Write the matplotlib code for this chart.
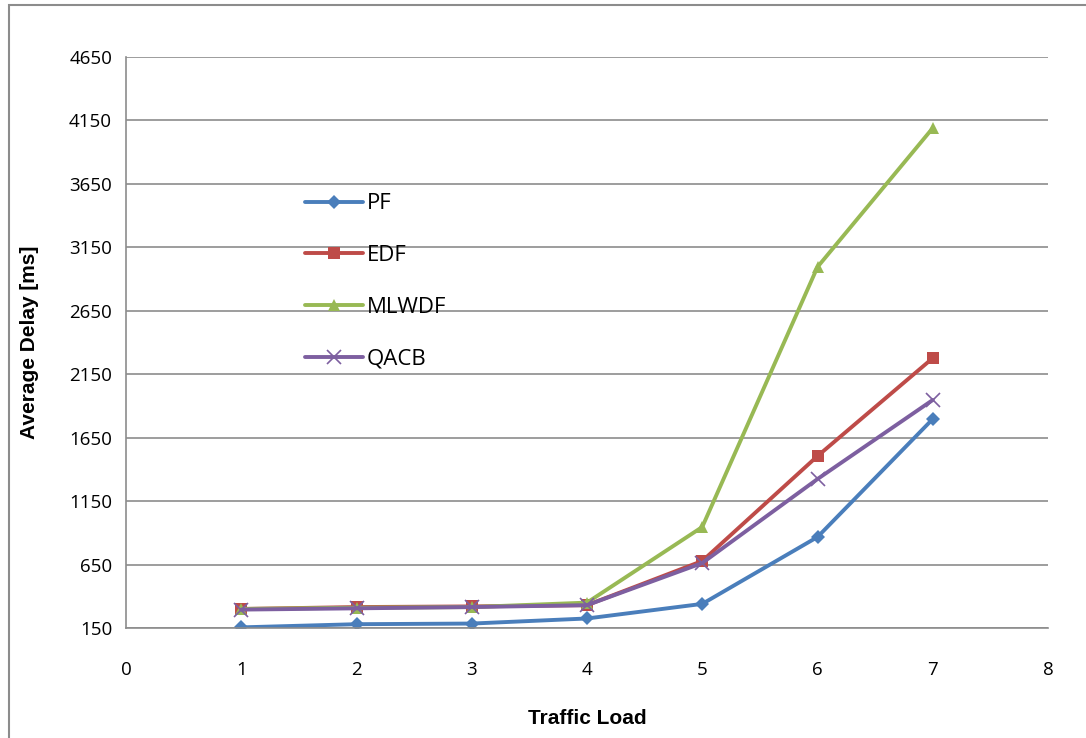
import matplotlib
matplotlib.use("Agg")
import matplotlib.pyplot as plt
from matplotlib.patches import Rectangle

# Average delay per scheduler versus traffic load
traffic_load = [1, 2, 3, 4, 5, 6, 7]
pf = [155, 180, 185, 225, 340, 867, 1797]
edf = [300, 315, 320, 330, 678, 1505, 2277]
mlwdf = [300, 310, 315, 350, 946, 2995, 4090]
qacb = [295, 305, 315, 330, 662, 1324, 1947]

y_ticks = [150, 650, 1150, 1650, 2150, 2650, 3150, 3650, 4150, 4650]
x_ticks = [0, 1, 2, 3, 4, 5, 6, 7, 8]

W, H = 1086, 738
fig = plt.figure(figsize=(W / 100, H / 100), dpi=100)
ax = fig.add_axes([126 / W, 1 - 628 / H, (1048 - 126) / W, (628 - 57) / H])

font = ["Open Sans", "DejaVu Sans"]
title_font = ["Liberation Sans Narrow", "Liberation Sans", "DejaVu Sans"]

series = [
    ("PF", pf, "#4a7ebb", "D", 7),
    ("EDF", edf, "#be4b48", "s", 9),
    ("MLWDF", mlwdf, "#98b954", "^", 9),
    ("QACB", qacb, "#7d5fa0", "x", 10),
]
for label, vals, color, marker, ms in series:
    kw = dict(markeredgewidth=1.2) if marker == "x" else dict(markeredgewidth=0)
    ax.plot(traffic_load, vals, color=color, lw=2.8, marker=marker,
            markersize=ms, markerfacecolor=color, markeredgecolor=color,
            label=label, solid_capstyle="round", **kw)

ax.set_xlim(0, 8)
ax.set_ylim(150, 4650)
ax.set_xticks(x_ticks)
ax.set_yticks(y_ticks)
ax.grid(axis="y", color="#8c8c8c", lw=1.2)
ax.set_axisbelow(True)
for side in ("top", "right"):
    ax.spines[side].set_visible(False)
for side in ("left", "bottom"):
    ax.spines[side].set_color("#8c8c8c")
    ax.spines[side].set_linewidth(1.2)
ax.tick_params(length=0, labelsize=13.5, colors="black")
ax.tick_params(axis="x", pad=24)
ax.tick_params(axis="y", pad=10)
for lab in ax.get_xticklabels() + ax.get_yticklabels():
    lab.set_family(font)

ax.set_xlabel("Traffic Load", fontsize=15, fontweight="bold",
              family=title_font, labelpad=21)
ax.set_ylabel("Average Delay [ms]", fontsize=15, fontweight="bold",
              family=title_font, labelpad=22)

leg = ax.legend(loc="upper left", bbox_to_anchor=(0.194, 0.761), frameon=False,
                prop={"family": font, "size": 16}, handlelength=2.6,
                labelspacing=1.38, handletextpad=0.2, borderpad=0,
                borderaxespad=0)

fig.patches.append(Rectangle((9 / W, -0.1), 1.2, 1 - 5 / H + 0.1,
                             transform=fig.transFigure, fill=False,
                             edgecolor="#8c8c8c", lw=1.5))

fig.savefig("out.png", dpi=100)
